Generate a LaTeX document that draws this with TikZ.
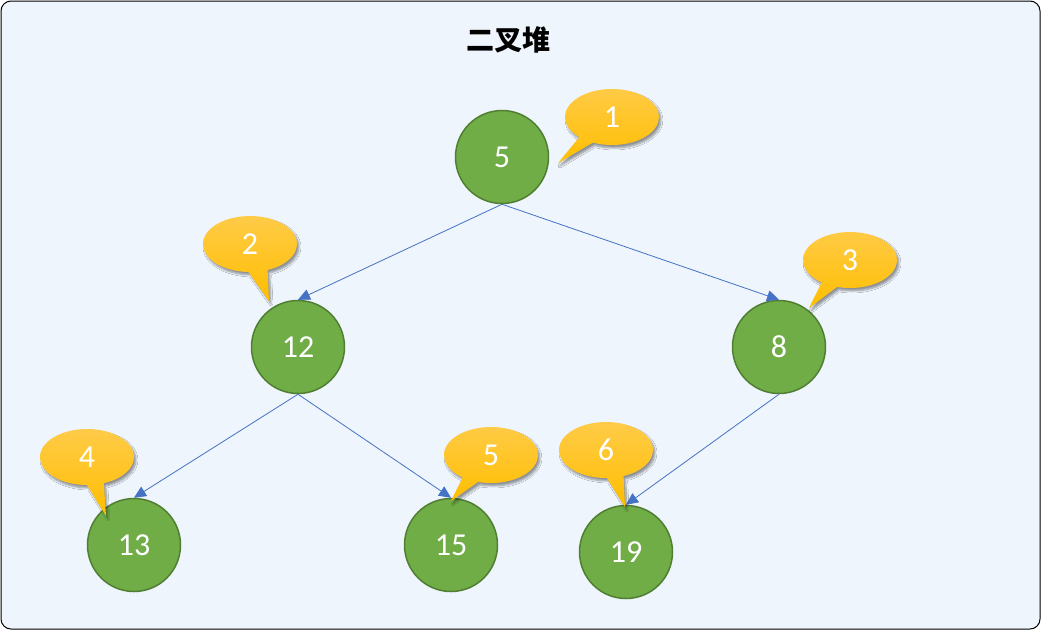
\documentclass[tikz,border=0pt]{standalone}
\usepackage{fontspec}
\setmainfont{Carlito}
\newfontfamily\cjk{Noto Sans CJK SC}
\usetikzlibrary{arrows.meta,shadows.blur}
\definecolor{bgblue}{HTML}{EEF5FC}
\definecolor{heapgreen}{HTML}{70AD47}
\definecolor{heapborder}{HTML}{507E32}
\definecolor{edgeblue}{HTML}{4472C4}
\definecolor{calloutlight}{HTML}{FFCB48}
\definecolor{calloutdark}{HTML}{FFBE00}
\tikzstyle{frame} = [draw=black, line width=1pt, fill=bgblue, rounded corners=10pt]
\tikzstyle{heapnode} = [circle, draw=heapborder, line width=1.5pt, fill=heapgreen, minimum size=93pt, inner sep=0pt, text=white, font=\fontsize{32}{34}\selectfont]
\tikzstyle{link} = [->, draw=edgeblue, line width=0.8pt]
\tikzstyle{callout} = [top color=calloutlight, bottom color=calloutdark, blur shadow={shadow xshift=2pt, shadow yshift=-3pt, shadow blur steps=6, shadow opacity=40}]
\tikzstyle{callouttext} = [text=white, font=\fontsize{32}{34}\selectfont]

\begin{document}
\begin{tikzpicture}[x=1pt, y=-1pt, >={Triangle[length=12pt, width=11pt]}]
   \path[use as bounding box] (0,0) rectangle (1041,630);
   \draw[frame] (1,1) rectangle (1040,629);
   \node (Title) at (508,40) {\cjk\bfseries\fontsize{28}{30}\selectfont 二叉堆};

   % heap nodes
   \node (Root) at (502,157) [heapnode] {5};
   \node (Twelve) at (298,347) [heapnode] {12};
   \node (Eight) at (779,347) [heapnode] {8};
   \node (Thirteen) at (134,545) [heapnode] {13};
   \node (Fifteen) at (451,545) [heapnode] {15};
   \node (Nineteen) at (626,552) [heapnode] {19};

   \draw[link] (Root.south) -- (Twelve.north);
   \draw[link] (Root.south) -- (Eight.north);
   \draw[link] (Twelve.south) -- (Thirteen.north);
   \draw[link] (Twelve.south) -- (Fifteen.north);
   \draw[link] (Eight.south) -- (Nineteen.north);

   % index callouts
   \path[callout] ([shift={(246:47pt and 28pt)}]612,117) -- (558,163) -- ([shift={(226:47pt and 28pt)}]612,117) arc[start angle=226, end angle=-114, x radius=47pt, y radius=28pt] -- cycle;
   \node (IndexOne) at (612,117) [callouttext] {1};
   \path[callout] ([shift={(292:47pt and 28pt)}]250,244) -- (269,301) -- ([shift={(268:47pt and 28pt)}]250,244) arc[start angle=268, end angle=-68, x radius=47pt, y radius=28pt] -- cycle;
   \node (IndexTwo) at (250,244) [callouttext] {2};
   \path[callout] ([shift={(254:47pt and 28pt)}]850,260) -- (809,308) -- ([shift={(233:47pt and 28pt)}]850,260) arc[start angle=233, end angle=-106, x radius=47pt, y radius=28pt] -- cycle;
   \node (IndexThree) at (850,260) [callouttext] {3};
   \path[callout] ([shift={(291:47pt and 28pt)}]87,457) -- (106,516) -- ([shift={(270:47pt and 28pt)}]87,457) arc[start angle=270, end angle=-69, x radius=47pt, y radius=28pt] -- cycle;
   \node (IndexFour) at (87,457) [callouttext] {4};
   \path[callout] ([shift={(254:47pt and 28pt)}]491,455) -- (451,501) -- ([shift={(233:47pt and 28pt)}]491,455) arc[start angle=233, end angle=-106, x radius=47pt, y radius=28pt] -- cycle;
   \node (IndexFive) at (491,455) [callouttext] {5};
   \path[callout] ([shift={(292:47pt and 28pt)}]606,450) -- (625,507) -- ([shift={(271:47pt and 28pt)}]606,450) arc[start angle=271, end angle=-68, x radius=47pt, y radius=28pt] -- cycle;
   \node (IndexSix) at (606,450) [callouttext] {6};
\end{tikzpicture}
\end{document}
